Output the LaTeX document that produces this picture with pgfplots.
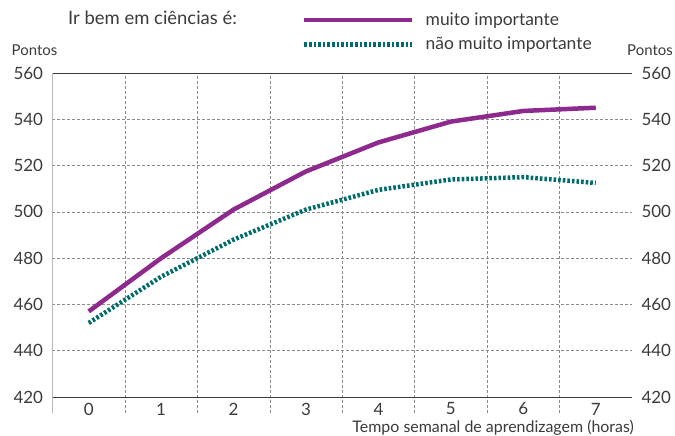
\documentclass[border=0pt]{standalone}
\usepackage{pgfplots}
\pgfplotsset{compat=1.18}
\usepackage{fontspec}
\setmainfont{Lato}
\definecolor{txt}{HTML}{3A3A3A}
\definecolor{purp}{HTML}{8E2A8E}
\definecolor{teal2}{HTML}{006B6B}
\definecolor{gridc}{HTML}{8A8A8A}
\pgfplotstableread{
x y
0 457
1 480
2 501
3 517.5
4 530
5 539
6 543.6
7 545
}\muito
\pgfplotstableread{
x y
0 452
1 472
2 488
3 501
4 509.5
5 514
6 515
7 512.5
}\nao
\begin{document}
\begin{tikzpicture}[every node/.style={text=txt}]
\begin{axis}[
  at={(0,0)}, anchor=south west,
  scale only axis, width=579.5bp, height=340bp,
  xmin=-0.5, xmax=7.5, ymin=413.1, ymax=560,
  xtick={0,...,7},
  minor xtick={0.5,1.5,...,6.5},
  xminorgrids, ymajorgrids,
  ytick={420,440,...,560},
  grid style={densely dashed, gridc, line width=0.6pt},
  minor grid style={densely dashed, gridc, line width=0.6pt},
  major tick length=0pt, minor tick length=0pt,
  axis line style={draw=none},
  tick label style={font=\fontsize{17}{20}\selectfont, text=txt},
  /pgf/number format/assume math mode=true,
  /pgf/number format/1000 sep={},
  xticklabel style={anchor=center, yshift=4bp},
  yticklabel style={xshift=-6bp},
  legend style={at={(0.4305,1.18)}, anchor=north west, draw=none, fill=none,
    inner sep=0pt, row sep=8bp,
    nodes={inner sep=1pt, anchor=west, text=txt, font=\fontsize{17.5}{21}\selectfont}},
  legend cell align=left,
  legend image code/.code={\draw[#1] (0bp,0bp) -- (108bp,0bp);},
]
\draw[txt, line width=0.9pt] (axis cs:-0.5,420) -- (axis cs:7.5,420);
\draw[txt, line width=0.9pt] (rel axis cs:0,0) -- (rel axis cs:0,1) -- (rel axis cs:1,1) -- (rel axis cs:1,0);
\addplot[purp, line width=4.5bp, line join=round] table[x=x,y=y] {\muito};
\addlegendentry{\hspace{10bp}muito importante}
\addplot[teal2, line width=4.5bp, dash pattern=on 2.6bp off 2bp] table[x=x,y=y] {\nao};
\addlegendentry{\hspace{10bp}não muito importante}
\end{axis}
\begin{axis}[
  at={(0,0)}, anchor=south west,
  scale only axis, width=579.5bp, height=340bp,
  xmin=-0.5, xmax=7.5, ymin=413.1, ymax=560,
  hide x axis,
  axis line style={draw=none},
  ytick={420,440,...,560},
  yticklabel pos=right,
  major tick length=0pt,
  tick label style={font=\fontsize{17}{20}\selectfont, text=txt},
  /pgf/number format/assume math mode=true,
  yticklabel style={xshift=6bp},
]
\addplot[draw=none] coordinates {(0,500)};
\end{axis}
\node[font=\fontsize{15}{18}\selectfont] at (-18bp,363bp) {Pontos};
\node[font=\fontsize{15}{18}\selectfont] at (597.5bp,363bp) {Pontos};
\node[anchor=west, font=\fontsize{18.5}{22}\selectfont, inner sep=0pt] at (15.5bp,395bp) {Ir bem em ciências é:};
\node[anchor=base east, font=\fontsize{16}{19}\selectfont, inner sep=0pt] at (581.5bp,-19bp) {Tempo semanal de aprendizagem (horas)};
\pgfresetboundingbox
\path[use as bounding box] (-52.5bp,-23bp) rectangle (622.5bp,413bp);
\end{tikzpicture}
\end{document}
